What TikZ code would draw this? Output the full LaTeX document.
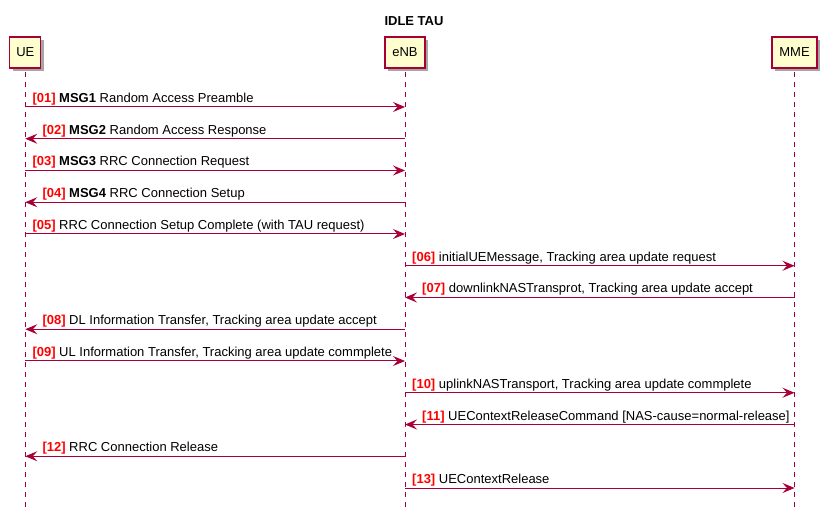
\documentclass[tikz,border=0pt]{standalone}
\usepackage{fontspec}
\setmainfont{Liberation Sans}
\usetikzlibrary{
		calc,
		positioning,
		arrows.meta,
		shadows
	}
\definecolor{umlred}{HTML}{A80036}
\definecolor{umlfill}{HTML}{FEFECE}

\begin{document}
\begin{tikzpicture}[x=1pt, y=-1pt,
		actor/.style={draw=umlred, line width=1.3pt, fill=umlfill, inner sep=0pt, minimum height=31pt,
			font=\fontsize{13}{15}\selectfont,
			drop shadow={shadow xshift=3pt, shadow yshift=-3pt, fill=black, opacity=0.35}},
		lifeline/.style={draw=umlred, line width=0.9pt, dash pattern=on 5pt off 5pt},
		msg/.style={draw=umlred, line width=1pt},
		toright/.style={-{Stealth[length=12pt, width=10pt, inset=4.5pt]}},
		toleft/.style={{Stealth[length=12pt, width=10pt, inset=4.5pt]}-},
		lbl/.style={anchor=base west, inner sep=0pt, font=\fontsize{13}{15}\selectfont}]
		\useasboundingbox (0,0) rectangle (827,518);
		\node[anchor=base, font=\bfseries\fontsize{13}{15}\selectfont] (title) at (414,26) {IDLE TAU};
		% participants
		\node[actor, minimum width=31pt] (ue) at (25.3,52.5) {UE};
		\node[actor, minimum width=40pt] (enb) at (405,52.5) {eNB};
		\node[actor, minimum width=45pt] (mme) at (794.5,52.5) {MME};
		\coordinate (ue-end) at (ue |- 0,507);
		\coordinate (enb-end) at (enb |- 0,507);
		\coordinate (mme-end) at (mme |- 0,507);
		\draw[lifeline] (ue-end) -- ($(ue.south)+(0,2)$);
		\draw[lifeline] (enb-end) -- ($(enb.south)+(0,2)$);
		\draw[lifeline] (mme-end) -- ($(mme.south)+(0,2)$);
		% messages: number / left / right / direction / label offset / text
		\foreach \n/\l/\r/\dir/\off/\txt [count=\i, evaluate=\i as \y using 107+(\i-1)*31.75] in {
				01/ue/enb/toright/7/{\textbf{MSG1} Random Access Preamble},
				02/ue/enb/toleft/17/{\textbf{MSG2} Random Access Response},
				03/ue/enb/toright/7/{\textbf{MSG3} RRC Connection Request},
				04/ue/enb/toleft/17/{\textbf{MSG4} RRC Connection Setup},
				05/ue/enb/toright/7/{RRC Connection Setup Complete (with TAU request)},
				06/enb/mme/toright/7/{initialUEMessage, Tracking area update request},
				07/enb/mme/toleft/17/{downlinkNASTransprot, Tracking area update accept},
				08/ue/enb/toleft/17/{DL Information Transfer, Tracking area update accept},
				09/ue/enb/toright/7/{UL Information Transfer, Tracking area update commplete},
				10/enb/mme/toright/7/{uplinkNASTransport, Tracking area update commplete},
				11/enb/mme/toleft/17/{UEContextReleaseCommand [NAS-cause=normal-release]},
				12/ue/enb/toleft/17/{RRC Connection Release},
				13/enb/mme/toright/7/{UEContextRelease}}{
			\draw[msg, \dir] (\l |- 0,\y) -- (\r |- 0,\y);
			\node[lbl] (m\n) at ($(\l |- 0,\y) + (\off,-4.5)$) {\textcolor{red}{\textbf{[\n]}} \txt};
		}
	\end{tikzpicture}
\end{document}
